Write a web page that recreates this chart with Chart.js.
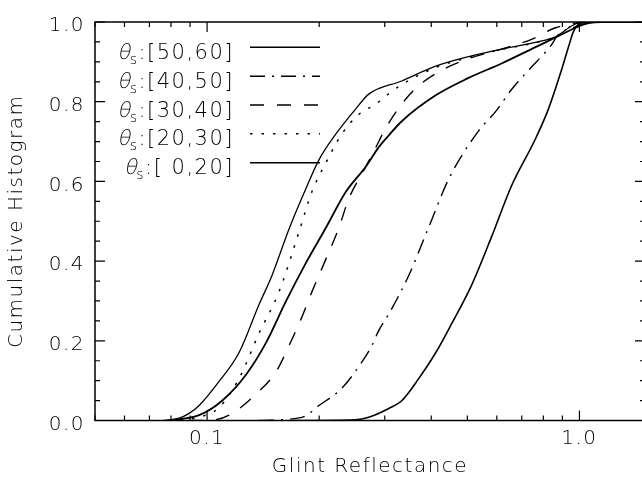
<!DOCTYPE html>
<html><head><meta charset="utf-8">
<script src="https://cdn.jsdelivr.net/npm/chart.js@4.4.1/dist/chart.umd.min.js"></script>
<style>html,body{margin:0;padding:0;overflow:hidden;background:#fff}canvas{display:block}</style>
</head><body>
<canvas id="c" width="660" height="493"></canvas>
<script>
// ---- tick labels ----
const xTickValues = [0.1, 1.0];
const xTickLabels = ['0.1', '1.0'];
const xMinorTicks = [0.05, 0.06, 0.07, 0.08, 0.09, 0.2, 0.3, 0.4, 0.5, 0.6, 0.7, 0.8, 0.9];
const yTickValues = [0, 0.2, 0.4, 0.6, 0.8, 1.0];
const yTickLabels = ['0.0', '0.2', '0.4', '0.6', '0.8', '1.0'];
const yMinorTicks = [0.05, 0.1, 0.15, 0.25, 0.3, 0.35, 0.45, 0.5, 0.55, 0.65, 0.7, 0.75, 0.85, 0.9, 0.95];

// ---- series (legend label ranges of solar zenith angle) ----
const seriesRanges = ['[50,60]', '[40,50]', '[30,40]', '[20,30]', '[ 0,20]', ''];

const refl_50_60 = [0.17, 0.25, 0.2718, 0.3076, 0.3333, 0.3701, 0.4111, 0.4538, 0.5134, 0.5807, 0.6572, 0.7621, 0.8258, 0.8948, 0.9343, 0.9637, 1.0125, 1.146, 1.5];
const cum_50_60  = [0, 0.002, 0.008, 0.030, 0.0496, 0.105, 0.17, 0.243, 0.3398, 0.4607, 0.589, 0.707, 0.782, 0.879, 0.937, 0.976, 0.9976, 1.0, 1.0];

const refl_40_50 = [0.1379, 0.1798, 0.1997, 0.2301, 0.2603, 0.2769, 0.2892, 0.3076, 0.348, 0.3937, 0.4455, 0.5361, 0.5953, 0.6572, 0.7299, 0.8361, 0.8784, 0.9757, 1.1, 1.5];
const cum_40_50  = [0, 0.008, 0.0375, 0.081, 0.1463, 0.1874, 0.2261, 0.2672, 0.364, 0.4849, 0.6058, 0.727, 0.775, 0.8307, 0.879, 0.9395, 0.9686, 0.988, 1.0, 1.0];

const refl_30_40 = [0.0895, 0.1031, 0.1146, 0.1353, 0.1531, 0.1659, 0.1798, 0.1912, 0.2085, 0.2259, 0.2403, 0.2668, 0.2892, 0.2982, 0.3333, 0.3701, 0.4373, 0.504, 0.6178, 0.7435, 0.8622, 1.0, 1.146, 1.5];
const cum_30_40  = [0, 0.001, 0.0133, 0.0665, 0.1221, 0.1874, 0.26, 0.3228, 0.405, 0.4837, 0.557, 0.637, 0.70, 0.725, 0.794, 0.84, 0.884, 0.908, 0.932, 0.9565, 0.9855, 0.998, 1.0, 1.0];

const refl_20_30 = [0.0791, 0.0952, 0.1077, 0.1218, 0.1379, 0.156, 0.1765, 0.1912, 0.2085, 0.2301, 0.2555, 0.2839, 0.3076, 0.3333, 0.4111, 0.504, 0.6178, 0.7621, 0.8676, 0.9519, 1.0125, 1.5];
const cum_20_30  = [0, 0.0085, 0.0326, 0.1052, 0.2189, 0.3228, 0.473, 0.574, 0.647, 0.719, 0.768, 0.794, 0.82, 0.843, 0.886, 0.911, 0.931, 0.948, 0.964, 0.99, 1.0, 1.0];

const refl_00_20 = [0.0767, 0.0841, 0.0895, 0.0952, 0.1077, 0.1218, 0.1379, 0.1494, 0.1659, 0.1843, 0.1997, 0.2218, 0.2508, 0.2718, 0.3333, 0.4111, 0.504, 0.6178, 0.7621, 0.8676, 0.9519, 1.0125, 1.5];
const cum_00_20  = [0, 0.006, 0.018, 0.0375, 0.098, 0.17, 0.291, 0.364, 0.480, 0.582, 0.654, 0.719, 0.782, 0.819, 0.852, 0.889, 0.913, 0.932, 0.949, 0.964, 0.990, 1.0, 1.0];

const refl_all = [0.0791, 0.0952, 0.1097, 0.1272, 0.1439, 0.1628, 0.1843, 0.2085, 0.2359, 0.2668, 0.2892, 0.302, 0.3333, 0.4111, 0.504, 0.6178, 0.7621, 0.8622, 0.9757, 1.057, 1.146, 1.5];
const cum_all  = [0, 0.0133, 0.0496, 0.1149, 0.1947, 0.2987, 0.3955, 0.4837, 0.574, 0.637, 0.686, 0.707, 0.751, 0.816, 0.8597, 0.896, 0.937, 0.961, 0.9855, 0.997, 1.0, 1.0];

const FONT = 'DejaVu Sans';
const FW = 200;
const FS = 20;
const SPACING = '1.5px';
const TXT = '#000';

function pts(xs, ys) { return xs.map((v, i) => ({x: v, y: ys[i]})); }

function ds(label, xs, ys, dash, width) {
  return {
    label: label,
    data: pts(xs, ys),
    borderColor: '#000',
    backgroundColor: '#000',
    borderWidth: width,
    borderDash: dash,
    pointRadius: 0,
    fill: false,
    cubicInterpolationMode: 'monotone'
  };
}

const datasets = [
  ds(seriesRanges[0], refl_50_60, cum_50_60, [], 1.6),
  ds(seriesRanges[1], refl_40_50, cum_40_50, [15, 7, 2, 7], 1.4),
  ds(seriesRanges[2], refl_30_40, cum_30_40, [14, 13], 1.4),
  ds(seriesRanges[3], refl_20_30, cum_20_30, [2.5, 9], 1.5),
  ds(seriesRanges[4], refl_00_20, cum_00_20, [], 1.3),
  ds(seriesRanges[5], refl_all, cum_all, [], 1.8)
];

const spacingPlugin = {
  id: 'spacing',
  beforeLayout(chart) { chart.ctx.letterSpacing = SPACING; },
  beforeDraw(chart) { chart.ctx.letterSpacing = SPACING; }
};

const framePlugin = {
  id: 'idlFrame',
  afterDatasetsDraw(chart) {
    const {ctx, chartArea: {left, right, top, bottom}, scales: {x, y}} = chart;
    ctx.save();
    ctx.strokeStyle = '#000';
    ctx.lineWidth = 1.5;
    ctx.strokeRect(left, top, right - left, bottom - top);
    ctx.lineWidth = 1.2;
    ctx.beginPath();
    const tick = (v, len) => {
      const p = x.getPixelForValue(v);
      ctx.moveTo(p, bottom); ctx.lineTo(p, bottom - len);
      ctx.moveTo(p, top); ctx.lineTo(p, top + len);
    };
    xTickValues.forEach(v => tick(v, 10));
    xMinorTicks.forEach(v => tick(v, 5));
    const ytick = (v, len) => {
      const p = y.getPixelForValue(v);
      ctx.moveTo(left, p); ctx.lineTo(left + len, p);
      ctx.moveTo(right, p); ctx.lineTo(right - len, p);
    };
    yTickValues.forEach(v => ytick(v, 10));
    yMinorTicks.forEach(v => ytick(v, 5));
    ctx.stroke();
    ctx.restore();
  }
};

const legendPlugin = {
  id: 'idlLegend',
  afterDraw(chart) {
    const {ctx, chartArea: {left, top}} = chart;
    ctx.save();
    ctx.letterSpacing = SPACING;
    ctx.fillStyle = TXT;
    ctx.textBaseline = 'alphabetic';
    ctx.textAlign = 'left';
    const textRight = left + 139;
    const big = FW + ' 21px ' + FONT;
    const small = FW + ' 14px ' + FONT;
    chart.data.datasets.forEach((d, i) => {
      if (!d.label) return;
      const rowY = top + 25.3 + i * 28.85;
      const base = rowY + 11.5;
      const rest = ':' + d.label;
      ctx.font = big;
      const wT = ctx.measureText('θ').width;
      const wR = ctx.measureText(rest).width;
      ctx.font = small;
      const wS = ctx.measureText('s').width;
      const x0 = textRight - (wT + wS + wR);
      // slanted theta (synthetic italic of the light face)
      ctx.save();
      ctx.font = big;
      ctx.translate(x0 + 2, base);
      ctx.transform(1, 0, -0.22, 1, 0, 0);
      ctx.fillText('θ', 0, 0);
      ctx.restore();
      ctx.font = small;
      ctx.fillText('s', x0 + wT, base + 5);
      ctx.font = big;
      ctx.fillText(rest, x0 + wT + wS, base);
      // line sample
      ctx.beginPath();
      ctx.strokeStyle = '#000';
      ctx.lineWidth = 1.5;
      ctx.setLineDash(d.borderDash || []);
      ctx.moveTo(left + 155, rowY);
      ctx.lineTo(left + 225, rowY);
      ctx.stroke();
      ctx.setLineDash([]);
    });
    ctx.restore();
  }
};

const tickFont = {family: FONT, size: FS, weight: FW};

new Chart(document.getElementById('c'), {
  type: 'line',
  data: {datasets: datasets},
  plugins: [spacingPlugin, framePlugin, legendPlugin],
  options: {
    responsive: false,
    animation: false,
    devicePixelRatio: 1,
    layout: {padding: {top: 7, right: 15, left: 0, bottom: 0}},
    plugins: {legend: {display: false}, tooltip: {enabled: false}},
    scales: {
      x: {
        type: 'logarithmic',
        min: 0.05,
        max: 1.5,
        afterBuildTicks: (s) => { s.ticks = xTickValues.map(v => ({value: v})); },
        afterFit: (s) => { s.height = 72.5; },
        grid: {display: false, drawTicks: false},
        border: {display: false},
        ticks: {
          autoSkip: false, maxRotation: 0, padding: 6, color: TXT,
          font: tickFont,
          callback: (v) => { const i = xTickValues.indexOf(v); return i >= 0 ? xTickLabels[i] : ''; }
        },
        title: {display: true, text: 'Glint Reflectance', color: TXT, font: tickFont, padding: {top: 0, bottom: 14}}
      },
      y: {
        type: 'linear',
        min: 0,
        max: 1,
        afterBuildTicks: (s) => { s.ticks = yTickValues.map(v => ({value: v})); },
        afterFit: (s) => { s.width = 95; },
        grid: {display: false, drawTicks: false},
        border: {display: false},
        ticks: {
          padding: 10, color: TXT, labelOffset: 4,
          font: tickFont,
          callback: (v) => { const i = yTickValues.indexOf(v); return i >= 0 ? yTickLabels[i] : ''; }
        },
        title: {display: true, text: 'Cumulative Histogram', color: TXT, font: tickFont, padding: {top: 5, bottom: 0}}
      }
    }
  }
});
</script>
</body></html>
